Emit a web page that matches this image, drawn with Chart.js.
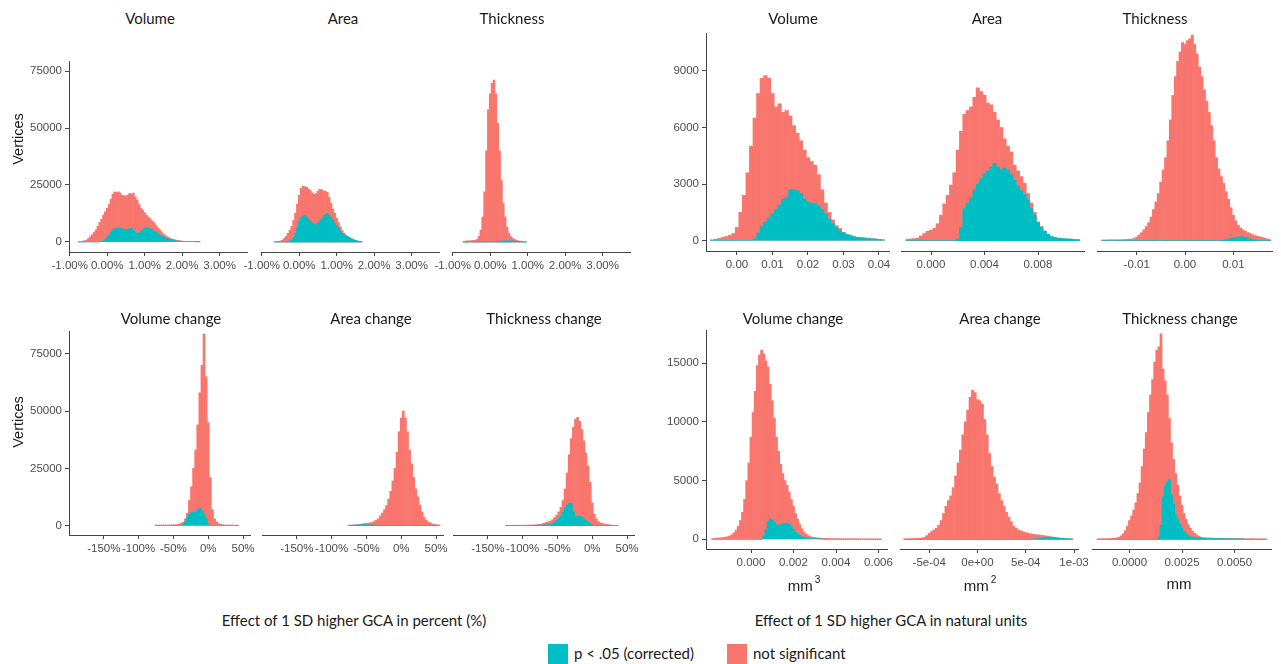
<!DOCTYPE html>
<html>
<head>
<meta charset="utf-8">
<script src="https://cdn.jsdelivr.net/npm/chart.js@4.4.1/dist/chart.umd.min.js"></script>
<style>
  html, body { margin: 0; padding: 0; background: #fff; }
  #figure { position: relative; width: 1281px; height: 664px; overflow: hidden; background: #fff; }
  #figure canvas { position: absolute; }
  .lbl { position: absolute; transform: translate(-50%, -50%); white-space: nowrap; color: #1a1a1a;
         font-family: Lato, "Open Sans", sans-serif; font-size: 15px; line-height: 18px; }
  .ytitle { font-family: "Liberation Sans", Arial, sans-serif; font-size: 14.5px; transform: translate(-50%, -50%) rotate(-90deg); }
  .unit { font-family: "Liberation Sans", Arial, sans-serif; font-size: 15px; }
  .unit sup { font-size: 10px; position: relative; top: -2px; margin-left: 2px; }
  .key { position: absolute; width: 20px; height: 20px; }
  .keytext { position: absolute; transform: translateY(-50%); white-space: nowrap; color: #1a1a1a;
             font-family: Lato, "Open Sans", sans-serif; font-size: 15px; }
</style>
</head>
<body>
<div id="figure"></div>
<script>
const COLOR_SIG = '#00BFC4';
const COLOR_NS = '#F8766D';

// ---- tick values / labels ----
const pctTicks = [-1, 0, 1, 2, 3];
const pctTickLabels = ['-1.00%', '0.00%', '1.00%', '2.00%', '3.00%'];
const pctChangeTicks = [-150, -100, -50, 0, 50];
const pctChangeTickLabels = ['-150%', '-100%', '-50%', '0%', '50%'];
const volTicks = [0, 0.01, 0.02, 0.03, 0.04];
const volTickLabels = ['0.00', '0.01', '0.02', '0.03', '0.04'];
const areaTicks = [0, 0.004, 0.008];
const areaTickLabels = ['0.000', '0.004', '0.008'];
const thickTicks = [-0.01, 0, 0.01];
const thickTickLabels = ['-0.01', '0.00', '0.01'];
const volChgTicks = [0, 0.002, 0.004, 0.006];
const volChgTickLabels = ['0.000', '0.002', '0.004', '0.006'];
const areaChgTicks = [-0.0005, 0, 0.0005, 0.001];
const areaChgTickLabels = ['-5e-04', '0e+00', '5e-04', '1e-03'];
const thickChgTicks = [0, 0.0025, 0.005];
const thickChgTickLabels = ['0.0000', '0.0025', '0.0050'];
const countTicksPct = [0, 25000, 50000, 75000];
const countTicksNatTop = [0, 3000, 6000, 9000];
const countTicksNatBottom = [0, 5000, 10000, 15000];

// ---- histograms: first bin centre, bin width, counts (total and significant) ----
// percent, top row
const volPctStart = -0.75, volPctStep = 0.05;
const volPctTotal = [100,200,400,600,900,1500,2300,3200,4200,5300,
  6800,8500,10000,11800,13300,14800,16500,18800,21000,22000,
  21800,22000,21500,20500,20300,20200,20600,21300,21000,21400,
  19800,18400,16500,14800,13900,12800,11800,11000,10200,9300,
  8500,7400,6200,5300,4400,3600,2900,2300,1900,1500,
  1200,1000,800,650,500,400,300,250,200,200,
  150,150,100,100,100];
const volPctSig = [0,0,0,0,0,0,0,0,0,0,
  0,100,300,600,1100,2000,3000,4200,5200,5700,
  6000,6100,6000,5700,5500,5300,5600,5800,6000,5000,
  4200,3800,3900,4600,5400,6000,6300,6200,5800,5300,
  4800,4200,3700,3100,2600,2200,1800,1500,1250,1000,
  800,650,500,400,350,300,250,200,200,200,
  150,150,100,100,100];

const areaPctStart = -0.65, areaPctStep = 0.05;
const areaPctTotal = [100,200,300,500,800,1500,2500,3800,5200,6800,
  9500,12600,16500,20500,23500,24500,24200,24000,23300,22500,
  21600,20900,21200,22300,23100,22900,22400,22200,21800,19500,
  17000,14500,12600,10500,8500,6700,5000,3800,3000,2400,
  1900,1400,1000,700,500,300,200];
const areaPctSig = [0,0,0,0,0,0,100,300,600,1000,
  1800,3800,6200,8900,10500,11400,11600,11000,10000,9000,
  8400,7800,7500,8200,9300,10000,11000,11900,12600,11800,
  10500,9600,8200,7200,6000,4800,3800,3200,2700,2200,
  1800,1300,1000,700,500,300,200];

const thickPctStart = -0.70, thickPctStep = 0.05;
const thickPctTotal = [300,400,500,500,600,700,800,1100,2500,5300,
  11000,22000,40000,58000,65000,69600,71000,65000,52000,40000,
  27000,17000,11000,6500,3800,2400,1600,1100,800,500,
  400,300,200,100];
const thickPctSig = [0,0,0,0,0,0,0,0,0,0,
  0,0,0,0,0,0,0,100,200,300,
  400,500,500,500,500,500,450,400,350,250,
  100,50,0,0];

// percent change, bottom row
const volChgPctStart = -75, volChgPctStep = 3;
const volChgPctTotal = [300,300,300,300,300,300,300,300,400,400,
  500,700,1000,1500,3000,5500,11000,17000,25000,33000,
  44000,58000,70000,83600,65000,45000,21000,7000,3000,1700,
  900,600,400,300,300,300,300,200,200,100];
const volChgPctSig = [0,0,0,0,0,0,0,0,0,0,
  0,0,200,500,1500,3500,5000,5800,5800,6000,
  6800,7600,6500,5000,3000,500,0,0,0,0,
  0,0,0,0,0,0,0,0,0,0];

const areaChgPctStart = -75, areaChgPctStep = 3;
const areaChgPctTotal = [200,300,300,400,400,500,700,900,1000,1100,
  1200,1400,1800,2400,3000,4200,5500,7000,8800,11500,
  15000,19500,25000,32000,41000,47000,50000,47000,41000,33000,
  27000,21000,16000,12500,9000,6000,3800,2400,1600,1200,
  800,500,400,300];
const areaChgPctSig = [0,100,200,300,300,400,400,400,400,400,
  300,300,300,200,200,100,0,0,0,0,
  0,0,0,0,0,0,0,0,0,0,
  0,0,0,0,0,0,0,0,0,0,
  0,0,0,0];

const thickChgPctStart = -123, thickChgPctStep = 3;
const thickChgPctTotal = [100,100,150,150,200,200,200,200,200,200,
  250,250,300,300,400,500,600,800,1100,1400,
  1700,2000,2600,3500,4500,6000,8000,11000,16000,23000,
  31000,38000,43000,46500,47300,45500,42000,37000,31600,26000,
  19000,10000,5000,3000,1800,1200,900,700,500,400,
  300,200,150,100];
const thickChgPctSig = [0,0,0,0,0,0,0,0,0,0,
  100,100,150,150,200,200,200,250,300,400,
  500,700,1000,1600,2400,3200,4200,5800,7500,9000,
  9700,9800,6000,3900,4200,4100,3600,2900,2200,1500,
  900,300,0,0,0,0,0,0,0,0,
  0,0,0,0];

// natural units, top row
const volNatStart = -0.007, volNatStep = 0.001;
const volNatTotal = [50,80,120,170,220,280,380,700,1500,2400,
  3600,5000,6500,7800,8600,8750,8600,7800,7100,7250,
  6800,6900,6600,6100,5700,5300,4800,4400,4200,4000,
  3500,2700,2000,1500,1100,800,650,450,340,270,
  210,180,160,140,120,100,90,70,50];
const volNatSig = [0,0,0,0,0,0,0,0,0,0,
  0,0,100,400,750,1000,1200,1400,1650,1900,
  2200,2300,2700,2700,2650,2500,2200,2050,2000,1950,
  1850,1650,1400,1150,900,700,520,420,330,260,
  210,180,160,140,120,100,90,70,50];

const areaNatStart = -0.00175, areaNatStep = 0.00025;
const areaNatTotal = [80,100,110,130,250,380,500,560,650,900,
  1350,1950,2400,2950,3600,4800,5800,6700,6900,7100,
  7600,8100,7900,7700,7300,7200,6800,6400,6000,5400,
  5000,4700,4000,3700,3400,3050,2500,2000,1500,1000,
  750,520,350,230,180,140,120,100,90,80,
  60,50];
const areaNatSig = [0,0,0,0,0,0,0,0,0,0,
  0,0,0,0,0,100,700,1700,2000,2300,
  2700,3000,3300,3550,3700,3900,4100,3900,3750,3850,
  3750,3500,3200,2900,2650,2450,2150,1700,1350,950,
  700,500,340,220,170,130,115,100,90,80,
  60,50];

const thickNatStart = -0.017, thickNatStep = 0.0005;
const thickNatTotal = [40,40,40,50,50,50,50,50,60,60,
  70,80,90,120,200,300,420,580,750,950,
  1250,1650,2050,2500,3100,3750,4400,5300,6400,7700,
  8700,9500,10000,10500,10400,10600,10700,10900,10400,9900,
  9200,8700,8000,7400,6800,6100,5300,4400,3800,3400,
  3050,2600,2200,1750,1350,1050,820,680,580,500,
  430,380,320,270,230,200,170,130,100,60];
const thickNatSig = [0,0,0,0,0,0,0,0,0,0,
  0,0,0,0,0,0,0,0,0,0,
  0,0,0,0,0,0,0,0,0,0,
  0,0,0,0,0,0,0,0,0,0,
  0,0,0,0,0,0,0,0,0,0,
  30,60,90,120,150,180,200,210,200,180,
  140,100,60,30,0,0,0,0,0,0];

// natural units, bottom row
const volChgNatStart = -0.0018, volChgNatStep = 0.0001;
const volChgNatTotal = [60,80,100,110,130,150,180,220,280,380,
  550,780,1100,1600,2300,3400,5000,6500,8700,10800,
  12600,14800,15700,16100,15800,15200,14700,13200,11800,10300,
  8700,7500,6400,5600,5000,4600,4000,3400,2800,2200,
  1700,1250,900,620,420,300,230,180,150,130,
  110,100,90,80,70,70,60,60,60,50,
  50,50,50,50,50,50,50,50,50,40,
  40,40,40,40,40,40,40,30,30,30];
const volChgNatSig = [0,0,0,0,0,0,0,0,0,0,
  0,0,0,0,0,0,0,0,0,0,
  0,0,0,0,300,800,1500,1750,1650,1450,
  1250,1200,1250,1350,1350,1380,1300,1100,850,600,
  420,300,220,160,120,100,80,70,60,40,
  30,20,0,0,0,0,0,0,0,0,
  0,0,0,0,0,0,0,0,0,0,
  0,0,0,0,0,0,0,0,0,0];

const areaChgNatStart = -0.00075, areaChgNatStep = 0.000025;
const areaChgNatTotal = [50,50,60,60,70,80,90,110,150,300,
  500,650,800,950,1200,1600,2200,2800,3300,3700,
  4400,5400,6500,7600,8900,10000,11000,12100,12700,12500,
  11900,11800,11500,10200,8900,7300,6200,5300,4700,3900,
  3300,2800,2300,1900,1500,1100,950,800,720,640,
  570,520,470,430,400,380,360,330,300,270,
  230,190,160,130,100,80,70,60,50,40];
const areaChgNatSig = [0,0,0,0,0,0,0,0,0,0,
  0,0,0,0,0,0,0,0,0,0,
  0,0,0,0,0,0,0,0,0,0,
  0,0,0,0,0,0,0,0,0,0,
  0,0,0,0,0,0,0,0,0,0,
  0,0,0,20,40,60,90,120,150,170,
  180,170,150,120,100,80,60,50,40,30];

const thickChgNatStart = -0.0015, thickChgNatStep = 0.0001;
const thickChgNatTotal = [40,40,50,50,60,60,70,80,100,120,
  180,300,480,750,1100,1600,2000,2500,3100,3900,
  4800,6200,7700,9100,10800,12300,13600,15100,16100,16400,
  17500,14500,13500,12300,10300,8200,6800,5600,4600,3700,
  2900,2200,1700,1250,950,700,520,380,260,190,
  150,130,120,110,100,100,90,90,80,80,
  80,70,70,70,70,60,60,60,60,60,
  50,50,50,50,50,40,40,40,40,40,
  30];
const thickChgNatSig = [0,0,0,0,0,0,0,0,0,0,
  0,0,0,0,0,0,0,0,0,0,
  0,0,0,0,0,0,0,0,0,200,
  1200,3600,4500,4900,5100,3800,3000,2100,1700,1300,
  950,650,450,300,230,170,140,120,100,90,
  80,80,70,70,70,70,60,60,60,60,
  50,50,50,50,50,50,40,40,40,40,
  0,0,0,0,0,0,0,0,0,0,
  0];

// ---- layout ----
const fig = document.getElementById('figure');
const PAD_L = 70, PAD_R = 30, PAD_T = 12, AXIS_H = 34;
const tickFont = { family: '"Liberation Sans", Arial, sans-serif', size: 11.5 };

const panels = [
  { start: volPctStart, step: volPctStep, total: volPctTotal, sig: volPctSig,
    box: [69, 61, 178, 191], xr: [-1.02, 3.73], xt: pctTicks, xl: pctTickLabels, yr: [-4386, 79386], yt: countTicksPct, yAxis: true },
  { start: areaPctStart, step: areaPctStep, total: areaPctTotal, sig: areaPctSig,
    box: [261, 61, 178, 191], xr: [-1.02, 3.73], xt: pctTicks, xl: pctTickLabels, yr: [-4386, 79386], yt: countTicksPct },
  { start: thickPctStart, step: thickPctStep, total: thickPctTotal, sig: thickPctSig,
    box: [452, 61, 178, 191], xr: [-1.02, 3.73], xt: pctTicks, xl: pctTickLabels, yr: [-4386, 79386], yt: countTicksPct },

  { start: volChgPctStart, step: volChgPctStep, total: volChgPctTotal, sig: volChgPctSig,
    box: [69, 331, 181, 204], xr: [-200, 60], xt: pctChangeTicks, xl: pctChangeTickLabels, yr: [-4058, 84948], yt: countTicksPct, yAxis: true },
  { start: areaChgPctStart, step: areaChgPctStep, total: areaChgPctTotal, sig: areaChgPctSig,
    box: [262, 331, 181, 204], xr: [-200, 60], xt: pctChangeTicks, xl: pctChangeTickLabels, yr: [-4058, 84948], yt: countTicksPct },
  { start: thickChgPctStart, step: thickChgPctStep, total: thickChgPctTotal, sig: thickChgPctSig,
    box: [453, 331, 181, 204], xr: [-200, 60], xt: pctChangeTicks, xl: pctChangeTickLabels, yr: [-4058, 84948], yt: countTicksPct },

  { start: volNatStart, step: volNatStep, total: volNatTotal, sig: volNatSig,
    box: [706, 33, 183, 218], xr: [-0.00873, 0.04282], xt: volTicks, xl: volTickLabels, yr: [-546, 11009], yt: countTicksNatTop, yAxis: true },
  { start: areaNatStart, step: areaNatStep, total: areaNatTotal, sig: areaNatSig,
    box: [901, 33, 183, 218], xr: [-0.002243, 0.011439], xt: areaTicks, xl: areaTickLabels, yr: [-546, 11009], yt: countTicksNatTop },
  { start: thickNatStart, step: thickNatStep, total: thickNatTotal, sig: thickNatSig,
    box: [1097, 33, 175, 218], xr: [-0.018208, 0.017999], xt: thickTicks, xl: thickTickLabels, yr: [-546, 11009], yt: countTicksNatTop },

  { start: volChgNatStart, step: volChgNatStep, total: volChgNatTotal, sig: volChgNatSig,
    box: [706, 330, 181, 219], xr: [-0.002118, 0.0064], xt: volChgTicks, xl: volChgTickLabels, yr: [-826, 17828], yt: countTicksNatBottom, yAxis: true },
  { start: areaChgNatStart, step: areaChgNatStep, total: areaChgNatTotal, sig: areaChgNatSig,
    box: [900, 330, 178, 219], xr: [-0.000802, 0.001041], xt: areaChgTicks, xl: areaChgTickLabels, yr: [-826, 17828], yt: countTicksNatBottom },
  { start: thickChgNatStart, step: thickChgNatStep, total: thickChgNatTotal, sig: thickChgNatSig,
    box: [1092, 330, 179, 219], xr: [-0.001786, 0.006738], xt: thickChgTicks, xl: thickChgTickLabels, yr: [-826, 17828], yt: countTicksNatBottom }
];

function axisStyle(ticks, labels) {
  return {
    type: 'linear',
    offset: false,
    afterBuildTicks: axis => { axis.ticks = ticks.map(v => ({ value: v })); },
    ticks: {
      autoSkip: false, maxRotation: 0, padding: 3, color: '#4d4d4d', font: tickFont,
      callback: (v, i) => labels[i]
    },
    grid: { display: true, drawOnChartArea: false, drawTicks: true, tickLength: 4, tickColor: '#444', offset: false },
    border: { display: true, color: '#444', width: 1 }
  };
}

function makePanel(p) {
  const [left, top, w, h] = p.box;
  const cw = w + PAD_L + PAD_R, ch = h + PAD_T + AXIS_H;
  const canvas = document.createElement('canvas');
  canvas.width = cw;
  canvas.height = ch;
  canvas.style.left = (left - PAD_L) + 'px';
  canvas.style.top = (top - PAD_T) + 'px';
  canvas.style.width = cw + 'px';
  canvas.style.height = ch + 'px';
  fig.appendChild(canvas);

  const centers = p.total.map((_, i) => +(p.start + i * p.step).toPrecision(10));
  const barOpts = { grouped: false, barPercentage: 1, categoryPercentage: 1, borderWidth: 0 };

  const xAxis = axisStyle(p.xt, p.xl);
  xAxis.min = p.xr[0];
  xAxis.max = p.xr[1];
  xAxis.afterFit = axis => { axis.height = AXIS_H; };

  const yAxis = axisStyle(p.yt, p.yt.map(String));
  yAxis.min = p.yr[0];
  yAxis.max = p.yr[1];
  yAxis.display = !!p.yAxis;
  if (p.yAxis) {
    yAxis.afterFit = axis => { axis.width = PAD_L; };
  }

  new Chart(canvas, {
    type: 'bar',
    data: {
      datasets: [
        Object.assign({ label: 'p < .05 (corrected)', backgroundColor: COLOR_SIG,
          data: centers.map((x, i) => ({ x: x, y: p.sig[i] })) }, barOpts),
        Object.assign({ label: 'not significant', backgroundColor: COLOR_NS,
          data: centers.map((x, i) => ({ x: x, y: p.total[i] })) }, barOpts)
      ]
    },
    options: {
      responsive: false,
      animation: false,
      events: [],
      layout: { padding: { left: p.yAxis ? 0 : PAD_L, right: PAD_R, top: PAD_T, bottom: 0 } },
      plugins: { legend: { display: false }, tooltip: { enabled: false } },
      scales: { x: xAxis, y: yAxis }
    }
  });
}

panels.forEach(makePanel);

// ---- text ----
function addLabel(html, x, y, cls) {
  const d = document.createElement('div');
  d.className = 'lbl' + (cls ? ' ' + cls : '');
  d.innerHTML = html;
  d.style.left = x + 'px';
  d.style.top = y + 'px';
  fig.appendChild(d);
}

addLabel('Volume', 150, 18);
addLabel('Area', 343, 18);
addLabel('Thickness', 512, 18);
addLabel('Volume change', 171, 318);
addLabel('Area change', 371, 318);
addLabel('Thickness change', 544, 318);
addLabel('Volume', 793, 18);
addLabel('Area', 987, 18);
addLabel('Thickness', 1155, 18);
addLabel('Volume change', 793, 318);
addLabel('Area change', 1000, 318);
addLabel('Thickness change', 1180, 318);

addLabel('Vertices', 18, 139, 'ytitle');
addLabel('Vertices', 18, 422, 'ytitle');

addLabel('mm<sup>3</sup>', 804, 584, 'unit');
addLabel('mm<sup>2</sup>', 980, 584, 'unit');
addLabel('mm', 1179, 584, 'unit');

addLabel('Effect of 1 SD higher GCA in percent (%)', 354, 620);
addLabel('Effect of 1 SD higher GCA in natural units', 891, 620);

// legend
function addKey(color, text, x) {
  const box = document.createElement('div');
  box.className = 'key';
  box.style.left = x + 'px';
  box.style.top = '644px';
  box.style.background = color;
  fig.appendChild(box);
  const t = document.createElement('div');
  t.className = 'keytext';
  t.textContent = text;
  t.style.left = (x + 26) + 'px';
  t.style.top = '653px';
  fig.appendChild(t);
}
addKey(COLOR_SIG, 'p < .05 (corrected)', 548);
addKey(COLOR_NS, 'not significant', 727);
</script>
</body>
</html>
